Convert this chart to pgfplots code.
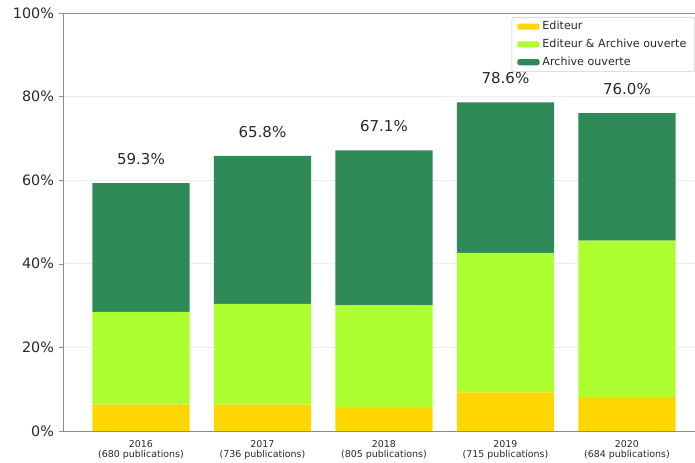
\documentclass[border=0pt]{standalone}
\usepackage{pgfplots}
\pgfplotsset{compat=1.18}
\usepackage{fontspec}
\setmainfont{DejaVu Sans}
\definecolor{gold}{RGB}{255,215,0}
\definecolor{greenyellow}{RGB}{173,255,47}
\definecolor{seagreen}{RGB}{46,139,87}
\definecolor{spine}{RGB}{140,140,140}
\definecolor{txt}{RGB}{40,40,40}

\pgfplotsset{frame/.style={
  at={(45.3pt,23pt)}, anchor=south west,
  scale only axis, width=454.7pt, height=300.7pt,
  xmin=-0.642, xmax=4.56, ymin=0, ymax=100,
  /pgf/number format/assume math mode=true}}

\begin{document}
\begin{tikzpicture}
\useasboundingbox (0,0) rectangle (500pt,333pt);
\begin{axis}[
  frame,
  ybar stacked, bar width=0.8,
  ytick={0,20,...,100},
  yticklabels={0\%,20\%,40\%,60\%,80\%,100\%},
  xtick={0,...,4},
  xticklabels={2016\\(680 publications),2017\\(736 publications),2018\\(805 publications),2019\\(715 publications),2020\\(684 publications)},
  xticklabel style={align=center, font=\fontsize{6.8}{7.8}\selectfont, text=txt},
  yticklabel style={font=\fontsize{10.3}{12}\selectfont, text=txt},
  axis x line*=box, axis y line*=left,
  axis line style={spine, -},
  ytick pos=left, tick align=outside,
  major tick length=3pt,
  ytick style={spine},
  xtick style={draw=none},
  ymajorgrids, grid style={black!7},
  legend cell align=left,
  legend image code/.code={\fill[#1] (0pt,-2.2pt) rectangle (16pt,2.2pt);},
  legend style={at={(1,1)}, anchor=north east, yshift=-2.9pt,
    draw=black!20, fill=white, rounded corners=1.5pt,
    font=\fontsize{8}{9.6}\selectfont, text=txt,
    inner xsep=4pt, inner ysep=1pt, row sep=1.2pt},
]
\addplot[fill=gold, draw=none] coordinates {(0,6.3) (1,6.3) (2,5.5) (3,9.2) (4,8.1)};
\addplot[fill=greenyellow, draw=none] coordinates {(0,22.2) (1,24.1) (2,24.6) (3,33.4) (4,37.4)};
\addplot[fill=seagreen, draw=none] coordinates {(0,30.8) (1,35.4) (2,37.0) (3,36.0) (4,30.5)};
\legend{Editeur, Editeur \& Archive ouverte, Archive ouverte}
\end{axis}
% totals above the bars, on an overlaid axis with the same frame
\begin{axis}[frame, hide axis]
\addplot[only marks, mark=none, point meta=y,
  nodes near coords={\pgfmathprintnumber[fixed,fixed zerofill,precision=1]{\pgfplotspointmeta}\%},
  nodes near coords style={anchor=center, yshift=17.5pt, font=\fontsize{10.8}{13}\selectfont, text=txt}]
  coordinates {(0,59.3) (1,65.8) (2,67.1) (3,78.6) (4,76.0)};
\end{axis}
\end{tikzpicture}
\end{document}
